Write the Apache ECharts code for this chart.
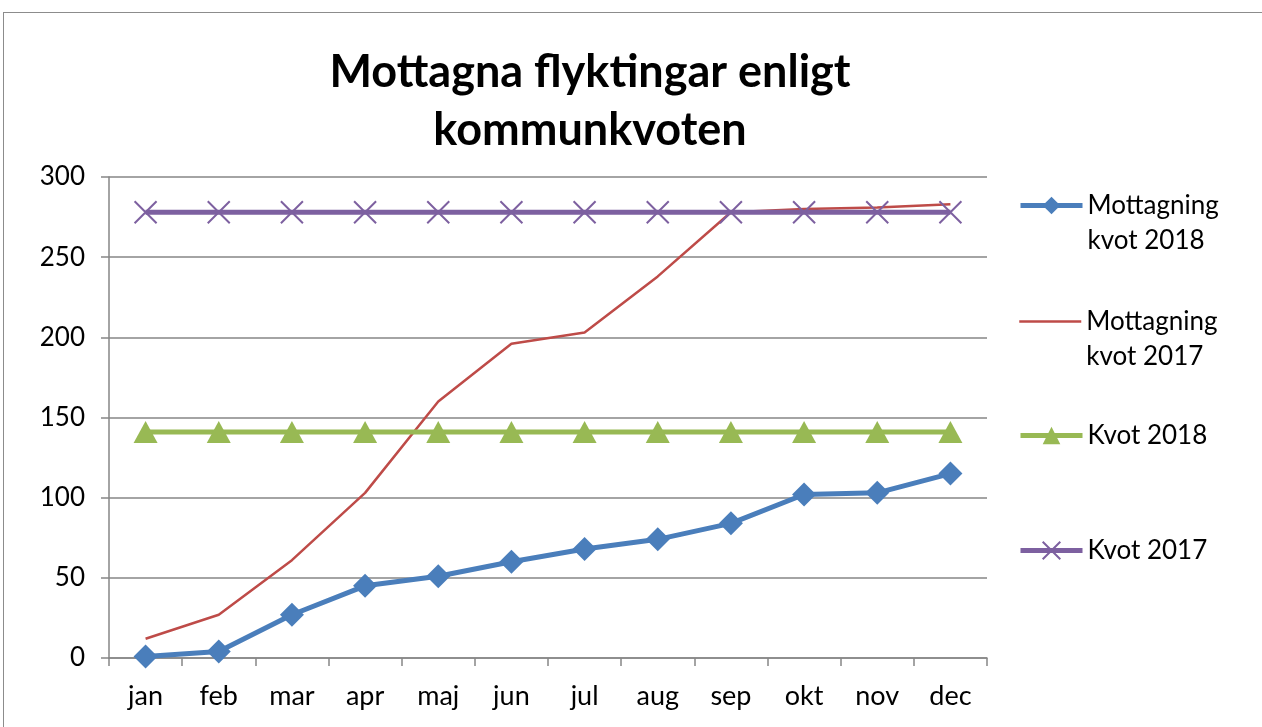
<!DOCTYPE html>
<html lang="sv">
<head>
    <meta charset="UTF-8">
    <title>Mottagna flyktingar enligt kommunkvoten</title>
    <script src="https://cdn.jsdelivr.net/npm/echarts@6/dist/echarts.min.js"></script>
    <style>
        *{
            margin: 0;
            padding: 0;
        }
        body{
            background: #fff;
            overflow: hidden;
        }
        .frame{
            position: absolute;
            left: 3px;
            top: 12px;
            width: 1300px;
            height: 760px;
            border: 1.5px solid #8c8c8c;
        }
        .container{
            position: absolute;
            left: 0;
            top: 0;
            width: 1262px;
            height: 727px;
        }
    </style>
</head>
<body>
<div class="frame"></div>
<div class="container"></div>
<script>
    const months = ['jan', 'feb', 'mar', 'apr', 'maj', 'jun', 'jul', 'aug', 'sep', 'okt', 'nov', 'dec'];
    const mottagning2018 = [1, 4, 27, 45, 51, 60, 68, 74, 84, 102, 103, 115];
    const mottagning2017 = [12, 27, 61, 103, 160, 196, 203, 238, 278, 280, 281, 283];
    const kvot2018 = [141, 141, 141, 141, 141, 141, 141, 141, 141, 141, 141, 141];
    const kvot2017 = [278, 278, 278, 278, 278, 278, 278, 278, 278, 278, 278, 278];

    const names = ['Mottagning\nkvot 2018', 'Mottagning\nkvot 2017', 'Kvot 2018', 'Kvot 2017'];

    let main = document.querySelector('.container');
    let mycharts = echarts.init(main);

    const font = 'Lato';
    const axisGray = '#868686';

    // one legend block per series, so each can sit where the original has it
    const legendTops = [148, 264, 413, 528];
    const legendLineWidths = [5, 2.5, 5, 5];
    let legend = names.map((name, i) => {
        let twoLines = name.includes('\n');
        let item = {name};
        if (i == 1) {
            // red series has no marker: hide the legend's default dot
            item.itemStyle = {color: 'transparent', borderWidth: 0, opacity: 0};
        }
        return {
            data: [item],
            left: 1013,
            top: legendTops[i],
            padding: 5,
            itemWidth: 62,
            itemHeight: 22,
            lineStyle: {width: legendLineWidths[i]},
            // leading empty line puts the first text line level with the icon
            formatter: n => twoLines ? '\n' + n : n,
            textStyle: {
                fontFamily: font,
                fontSize: 26,
                color: '#000',
                lineHeight: 35
            },
            selectedMode: false
        };
    });

    let Option = {
        backgroundColor: 'transparent',
        animation: false,
        title: {
            text: 'Mottagna flyktingar enligt\nkommunkvoten',
            left: 585,
            textAlign: 'center',
            top: 38,
            textStyle: {
                fontFamily: font,
                fontWeight: 'bold',
                fontSize: 45,
                lineHeight: 58,
                color: '#000'
            }
        },
        legend,
        grid: {
            left: 109,
            right: 275,
            top: 177,
            bottom: 69,
            containLabel: false
        },
        xAxis: {
            type: 'category',
            data: months,
            boundaryGap: true,
            axisLine: {lineStyle: {color: axisGray, width: 1.5}},
            axisTick: {
                show: true,
                inside: false,
                length: 8,
                alignWithLabel: false,
                lineStyle: {color: axisGray, width: 1.5}
            },
            axisLabel: {
                fontFamily: font,
                fontSize: 27,
                color: '#000',
                margin: 25
            }
        },
        yAxis: {
            type: 'value',
            min: 0,
            max: 300,
            interval: 50,
            axisLine: {show: true, lineStyle: {color: axisGray, width: 1.5}},
            axisTick: {
                show: true,
                length: 8,
                lineStyle: {color: axisGray, width: 1.5}
            },
            splitLine: {lineStyle: {color: axisGray, width: 1.5}},
            axisLabel: {
                fontFamily: font,
                fontSize: 26,
                color: '#000',
                margin: 24
            }
        },
        series: [
            {
                name: names[0],
                type: 'line',
                data: mottagning2018,
                symbol: 'diamond',
                symbolSize: 24,
                showAllSymbol: true,
                lineStyle: {color: '#4a7ebb', width: 5},
                itemStyle: {color: '#4a7ebb'}
            },
            {
                name: names[1],
                type: 'line',
                data: mottagning2017,
                symbol: 'none',
                lineStyle: {color: '#be4b48', width: 2.5},
                itemStyle: {color: '#be4b48'}
            },
            {
                name: names[2],
                type: 'line',
                data: kvot2018,
                symbol: 'triangle',
                symbolSize: [24, 22],
                showAllSymbol: true,
                lineStyle: {color: '#98b954', width: 5},
                itemStyle: {color: '#98b954'}
            },
            {
                name: names[3],
                type: 'line',
                data: kvot2017,
                symbol: 'path://M0,0L10,10M10,0L0,10',
                symbolSize: 22,
                showAllSymbol: true,
                lineStyle: {color: '#7d60a0', width: 5},
                itemStyle: {color: 'none', borderColor: '#7d60a0', borderWidth: 2}
            }
        ]
    };

    mycharts.setOption(Option);
</script>
</body>
</html>
